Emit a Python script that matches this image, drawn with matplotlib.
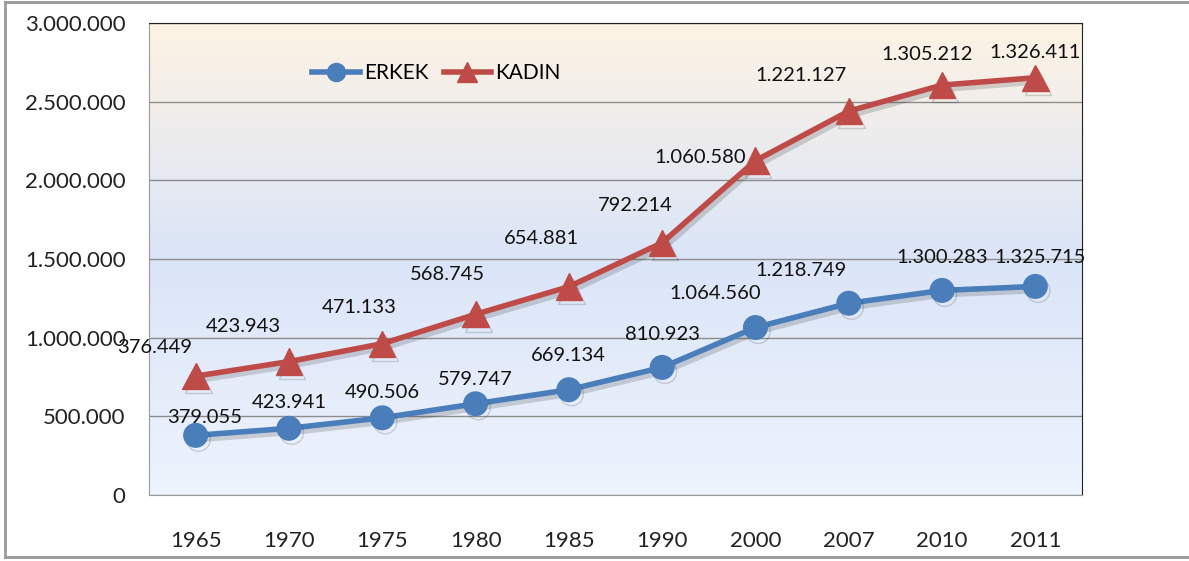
import numpy as np
import matplotlib.pyplot as plt
import matplotlib.patheffects as pe
from matplotlib.colors import LinearSegmentedColormap
from matplotlib.lines import Line2D

plt.rcParams['font.family'] = ['Lato', 'DejaVu Sans']

years = ['1965', '1970', '1975', '1980', '1985', '1990', '2000', '2007', '2010', '2011']
erkek = [379055, 423941, 490506, 579747, 669134, 810923, 1064560, 1218749, 1300283, 1325715]
kadin = [376449, 423943, 471133, 568745, 654881, 792214, 1060580, 1221127, 1305212, 1326411]

# label offsets in pixels (label centre minus point)
erkek_off = [(9, 18), (0, 26), (0, 25), (0, 24), (0, 34), (0, 33), (-40, 34), (-48, 33), (0, 33), (5, 29)]
kadin_off = [(-41, 29), (-46, 35), (-23, 36), (-28, 40), (-27, 48), (-27, 37), (-55, 3), (-48, 36), (-15, 31), (0, 25)]

blue = '#4a7ebb'
red = '#be4b48'


def fmt(v):
    return f'{v:,}'.replace(',', '.')


x = np.arange(len(years))
total = np.array(erkek) + np.array(kadin)

fig = plt.figure(figsize=(11.89, 5.61), dpi=100)
ax = fig.add_axes([149 / 1189, 1 - 495 / 561, 933 / 1189, 472 / 561])

# gradient background
cmap = LinearSegmentedColormap.from_list('bg', ['#eef4fd', '#dbe5f8', '#fdf3e4'])
ax.imshow(np.linspace(0, 1, 256).reshape(-1, 1), aspect='auto', cmap=cmap,
          extent=[-0.5, 9.5, 0, 3000000], origin='lower', zorder=0)

ax.set_xlim(-0.5, 9.5)
ax.set_ylim(0, 3000000)
ax.set_yticks(np.arange(0, 3000001, 500000))
ax.set_yticklabels([fmt(v) for v in range(0, 3000001, 500000)], fontsize=16, color='#222222')
ax.set_xticks(x)
ax.set_xticklabels(years, fontsize=16, color='#222222')
ax.tick_params(length=0)
ax.tick_params(axis='y', pad=17)
ax.tick_params(axis='x', pad=26)
ax.grid(axis='y', color='#8c8c8c', linewidth=1)
ax.set_axisbelow(True)
for side in ['top', 'right']:
    ax.spines[side].set_color('#222222')
for side in ['left', 'bottom']:
    ax.spines[side].set_color('#999999')

shadow = [pe.SimpleLineShadow(offset=(2, -3), alpha=0.18, shadow_color='#222222'), pe.Normal()]
ax.plot(x, erkek, color=blue, linewidth=4, marker='o', markersize=17,
        path_effects=shadow, zorder=3, label='ERKEK')
ax.plot(x, total, color=red, linewidth=4, marker='^', markersize=19,
        path_effects=shadow, zorder=3, label='KADIN')

for i in range(len(years)):
    ax.annotate(fmt(erkek[i]), (x[i], erkek[i]), xytext=erkek_off[i],
                textcoords='offset pixels', ha='center', va='center',
                fontsize=14.5, color='#111111', zorder=4)
    ax.annotate(fmt(kadin[i]), (x[i], total[i]), xytext=kadin_off[i],
                textcoords='offset pixels', ha='center', va='center',
                fontsize=14.5, color='#111111', zorder=4)

handles = [Line2D([], [], color=blue, linewidth=4, marker='o', markersize=13),
           Line2D([], [], color=red, linewidth=4, marker='^', markersize=14)]
ax.legend(handles, ['ERKEK', 'KADIN'], loc='upper left', bbox_to_anchor=(0.155, 0.955),
          ncol=2, frameon=False, fontsize=15, handlelength=2.3, columnspacing=0.7,
          handletextpad=0.2)

# outer chart border
for coords in [([0.004, 1], [0.996, 0.996]), ([0.004, 1], [0.007, 0.007]), ([0.004, 0.004], [0.007, 0.996])]:
    fig.add_artist(Line2D(coords[0], coords[1], color='#999999', linewidth=2,
                          transform=fig.transFigure))

fig.savefig('out.png', dpi=100)
